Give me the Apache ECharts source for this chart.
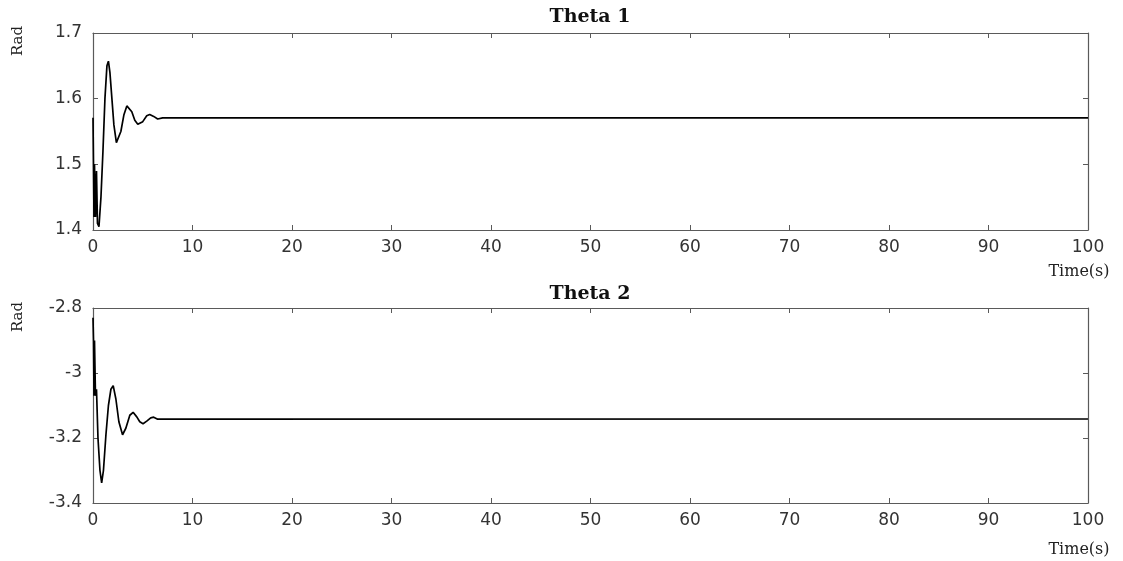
<!DOCTYPE html>
<html>
<head>
<meta charset="utf-8">
<script src="https://cdn.jsdelivr.net/npm/echarts@6/dist/echarts.min.js"></script>
<style>html,body{margin:0;padding:0;background:#fff}#c{width:1123px;height:561px}</style>
</head>
<body>
<div id="c"></div>
<script>
// Data
var titles = ['Theta 1', 'Theta 2'];
var xTicks = [0, 10, 20, 30, 40, 50, 60, 70, 80, 90, 100];
var yTicks1 = [1.4, 1.5, 1.6, 1.7];
var yTicks2 = [-3.4, -3.2, -3.0, -2.8];

var theta1T = [0, 0.1, 0.15, 0.25, 0.35, 0.45, 0.6, 0.8, 1.0, 1.2, 1.4, 1.55, 1.7, 1.9, 2.1, 2.35, 2.55, 2.8, 3.1, 3.4, 3.6, 3.9, 4.2, 4.5, 4.7, 5.0, 5.4, 5.7, 6.1, 6.5, 7.0, 100];
var theta1V = [1.571, 1.42, 1.50, 1.42, 1.49, 1.41, 1.405, 1.45, 1.52, 1.60, 1.65, 1.657, 1.64, 1.60, 1.56, 1.533, 1.530, 1.55, 1.575, 1.589, 1.591, 1.580, 1.567, 1.561, 1.560, 1.565, 1.574, 1.576, 1.573, 1.569, 1.5708, 1.5708];

var theta2T = [0, 0.05, 0.1, 0.15, 0.25, 0.35, 0.5, 0.7, 0.87, 1.05, 1.3, 1.55, 1.8, 2.03, 2.3, 2.6, 2.97, 3.3, 3.7, 4.03, 4.4, 4.7, 5.03, 5.4, 5.8, 6.1, 6.5, 100];
var theta2V = [-2.83, -2.90, -3.07, -2.90, -3.07, -3.05, -3.20, -3.30, -3.338, -3.30, -3.19, -3.10, -3.05, -3.039, -3.08, -3.15, -3.19, -3.17, -3.13, -3.121, -3.135, -3.150, -3.156, -3.148, -3.138, -3.136, -3.142, -3.1416];

function pairs(t, v) { return t.map(function (x, i) { return [x, v[i]]; }); }

var axisColor = '#5a5a5a';
var labelStyle = { color: '#333', fontFamily: 'DejaVu Sans', fontSize: 17 };

function xAx(grid, pos, showLabel) {
  return {
    type: 'value', gridIndex: grid, position: pos, min: 0, max: 100, interval: 10,
    axisLine: { show: true, onZero: false, lineStyle: { color: axisColor, width: 1.2 } },
    axisTick: { show: true, inside: true, length: 5, lineStyle: { color: axisColor } },
    axisLabel: Object.assign({ show: showLabel, margin: 9 }, labelStyle),
    splitLine: { show: false }
  };
}
function yAx(grid, pos, showLabel, ticks) {
  return {
    type: 'value', gridIndex: grid, position: pos,
    min: ticks[0], max: ticks[ticks.length - 1], interval: ticks[1] - ticks[0],
    axisLine: { show: true, onZero: false, lineStyle: { color: axisColor, width: 1.2 } },
    axisTick: { show: true, inside: true, length: 5, lineStyle: { color: axisColor } },
    axisLabel: Object.assign({ show: showLabel, margin: 11,
      formatter: function (v) { return String(parseFloat(v.toFixed(2))); } }, labelStyle),
    splitLine: { show: false }
  };
}

var serifTitle = { fontFamily: 'DejaVu Serif', fontWeight: 'bold', fontSize: 19, fill: '#111' };
var option = {
  animation: false,
  backgroundColor: '#fff',
  grid: [
    { left: 93, right: 35, top: 33, height: 197 },
    { left: 93, right: 35, top: 308, height: 195 }
  ],
  xAxis: [xAx(0, 'bottom', true), xAx(0, 'top', false), xAx(1, 'bottom', true), xAx(1, 'top', false)],
  yAxis: [yAx(0, 'left', true, yTicks1), yAx(0, 'right', false, yTicks1), yAx(1, 'left', true, yTicks2), yAx(1, 'right', false, yTicks2)],
  series: [
    { type: 'line', xAxisIndex: 0, yAxisIndex: 0, data: pairs(theta1T, theta1V), showSymbol: false,
      lineStyle: { color: '#000', width: 1.7 } },
    { type: 'line', xAxisIndex: 2, yAxisIndex: 2, data: pairs(theta2T, theta2V), showSymbol: false,
      lineStyle: { color: '#000', width: 1.7 } }
  ],
  graphic: [
    { type: 'text', x: 590, y: 17, style: Object.assign({ text: titles[0], align: 'center', verticalAlign: 'middle' }, serifTitle) },
    { type: 'text', x: 590, y: 294, style: Object.assign({ text: titles[1], align: 'center', verticalAlign: 'middle' }, serifTitle) },
    { type: 'text', x: 18, y: 41, rotation: Math.PI / 2, style: { text: 'Rad', align: 'center', verticalAlign: 'middle', fontFamily: 'DejaVu Serif', fontSize: 15, fill: '#222' } },
    { type: 'text', x: 18, y: 317, rotation: Math.PI / 2, style: { text: 'Rad', align: 'center', verticalAlign: 'middle', fontFamily: 'DejaVu Serif', fontSize: 15, fill: '#222' } },
    { type: 'text', x: 1079, y: 272, style: { text: 'Time(s)', align: 'center', verticalAlign: 'middle', fontFamily: 'DejaVu Serif', fontSize: 16, fill: '#222' } },
    { type: 'text', x: 1079, y: 550, style: { text: 'Time(s)', align: 'center', verticalAlign: 'middle', fontFamily: 'DejaVu Serif', fontSize: 16, fill: '#222' } }
  ]
};
var chart = echarts.init(document.getElementById('c'), null, { renderer: 'canvas' });
chart.setOption(option);
</script>
</body>
</html>
